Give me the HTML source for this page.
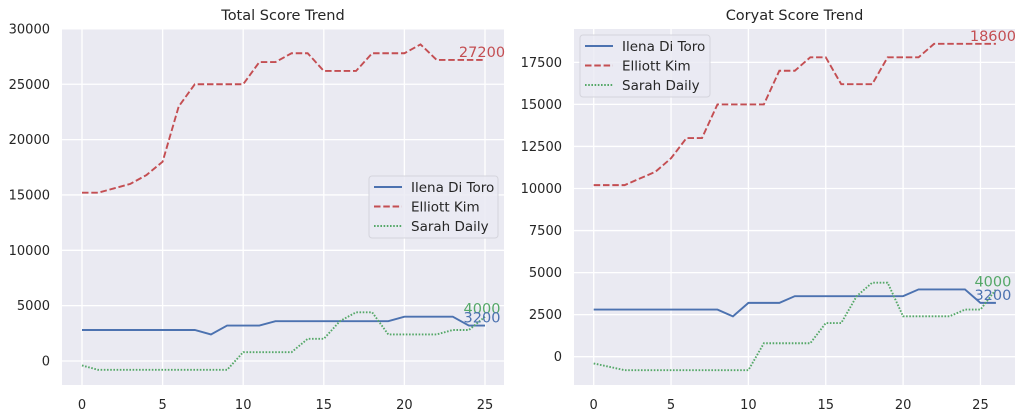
<!DOCTYPE html>
<html><head><meta charset="utf-8"><style>
html,body{margin:0;padding:0;background:#fff;width:1024px;height:419px;overflow:hidden}
svg{display:block;font-family:"DejaVu Sans","Liberation Sans",sans-serif}
</style></head><body>
<svg id="s" width="1024" height="419" viewBox="0 0 1024 419" xmlns="http://www.w3.org/2000/svg"></svg>
<script>
const NS="http://www.w3.org/2000/svg";const s=document.getElementById('s');
function el(t,a,txt){const e=document.createElementNS(NS,t);for(const k in a)e.setAttribute(k,a[k]);if(txt!==undefined)e.textContent=txt;s.appendChild(e);return e;}
const B="#4c72b0",R="#c44e52",G="#55a868",TX="#262626";
function chart(c){
 const{x0,x1,y0,y1,px0,pxs,py0,pys}=c;
 el('rect',{x:x0,y:y0,width:x1-x0,height:y1-y0,fill:'#eaeaf2'});
 const X=v=>px0+v*pxs, Y=v=>py0-v*pys/1000;
 for(let t=0;t<=25;t+=5){el('line',{x1:X(t),x2:X(t),y1:y0,y2:y1,stroke:'#fff','stroke-width':1.3});
  el('text',{x:X(t),y:409,'text-anchor':'middle','font-size':13,fill:TX},t);}
 for(const t of c.yt){el('line',{x1:x0,x2:x1,y1:Y(t),y2:Y(t),stroke:'#fff','stroke-width':1.3});
  el('text',{x:c.lx,y:Y(t)+4.5,'text-anchor':'end','font-size':13,fill:TX},t);}
 el('text',{x:(x0+x1)/2,y:20,'text-anchor':'middle','font-size':14.5,fill:TX},c.title);
 const ser=[[c.ilena,B,''],[c.elliott,R,'6.5,2.8'],[c.sarah,G,'1.6,1.6']];
 for(const[d,col,da] of ser){el('polyline',{points:d.map((v,i)=>X(i)+','+Y(v)).join(' '),fill:'none',stroke:col,'stroke-width':1.9,'stroke-dasharray':da});}
 const n=c.ilena.length-1;
 el('text',{x:X(n)-3,y:Y(c.elliott[n])-3,'text-anchor':'middle','font-size':14.5,fill:R},c.elliott[n]);
 el('text',{x:X(n)-3,y:Y(c.sarah[n])-3,'text-anchor':'middle','font-size':14.5,fill:G},c.sarah[n]);
 el('text',{x:X(n)-3,y:Y(c.ilena[n])-3,'text-anchor':'middle','font-size':14.5,fill:B},c.ilena[n]);
 const L=c.leg;
 el('rect',{x:L.x,y:L.y,width:L.w,height:62,rx:3,fill:'#eaeaf2','fill-opacity':0.8,stroke:'#d4d4dc'});
 const names=['Ilena Di Toro','Elliott Kim','Sarah Daily'];
 ser.forEach((sr,i)=>{const yy=L.y+11+i*19.5;
  el('line',{x1:L.x+5,x2:L.x+33,y1:yy,y2:yy,stroke:sr[1],'stroke-width':1.9,'stroke-dasharray':sr[2]});
  el('text',{x:L.x+42,y:yy+5,'font-size':13.5,fill:TX},names[i]);});
}
chart({x0:62,x1:504,y0:29,y1:385,px0:82,pxs:16.12,py0:361,pys:11.07,lx:50,title:'Total Score Trend',
 yt:[0,5000,10000,15000,20000,25000,30000],
 elliott:[15200,15200,15600,16000,16800,18000,23000,25000,25000,25000,25000,27000,27000,27800,27800,26200,26200,26200,27800,27800,27800,28600,27200,27200,27200,27200],
 ilena:[2800,2800,2800,2800,2800,2800,2800,2800,2400,3200,3200,3200,3600,3600,3600,3600,3600,3600,3600,3600,4000,4000,4000,4000,3200,3200],
 sarah:[-400,-800,-800,-800,-800,-800,-800,-800,-800,-800,800,800,800,800,2000,2000,3600,4400,4400,2400,2400,2400,2400,2800,2800,4000],
 leg:{x:369,y:176,w:129}});
chart({x0:574,x1:1015,y0:29,y1:385,px0:593.7,pxs:15.47,py0:356.7,pys:16.82,lx:562,title:'Coryat Score Trend',
 yt:[0,2500,5000,7500,10000,12500,15000,17500],
 elliott:[10200,10200,10200,10600,11000,11800,13000,13000,15000,15000,15000,15000,17000,17000,17800,17800,16200,16200,16200,17800,17800,17800,18600,18600,18600,18600,18600],
 ilena:[2800,2800,2800,2800,2800,2800,2800,2800,2800,2400,3200,3200,3200,3600,3600,3600,3600,3600,3600,3600,3600,4000,4000,4000,4000,3200,3200],
 sarah:[-400,-600,-800,-800,-800,-800,-800,-800,-800,-800,-800,800,800,800,800,2000,2000,3600,4400,4400,2400,2400,2400,2400,2800,2800,4000],
 leg:{x:580,y:35,w:130}});
</script>
</body></html>
